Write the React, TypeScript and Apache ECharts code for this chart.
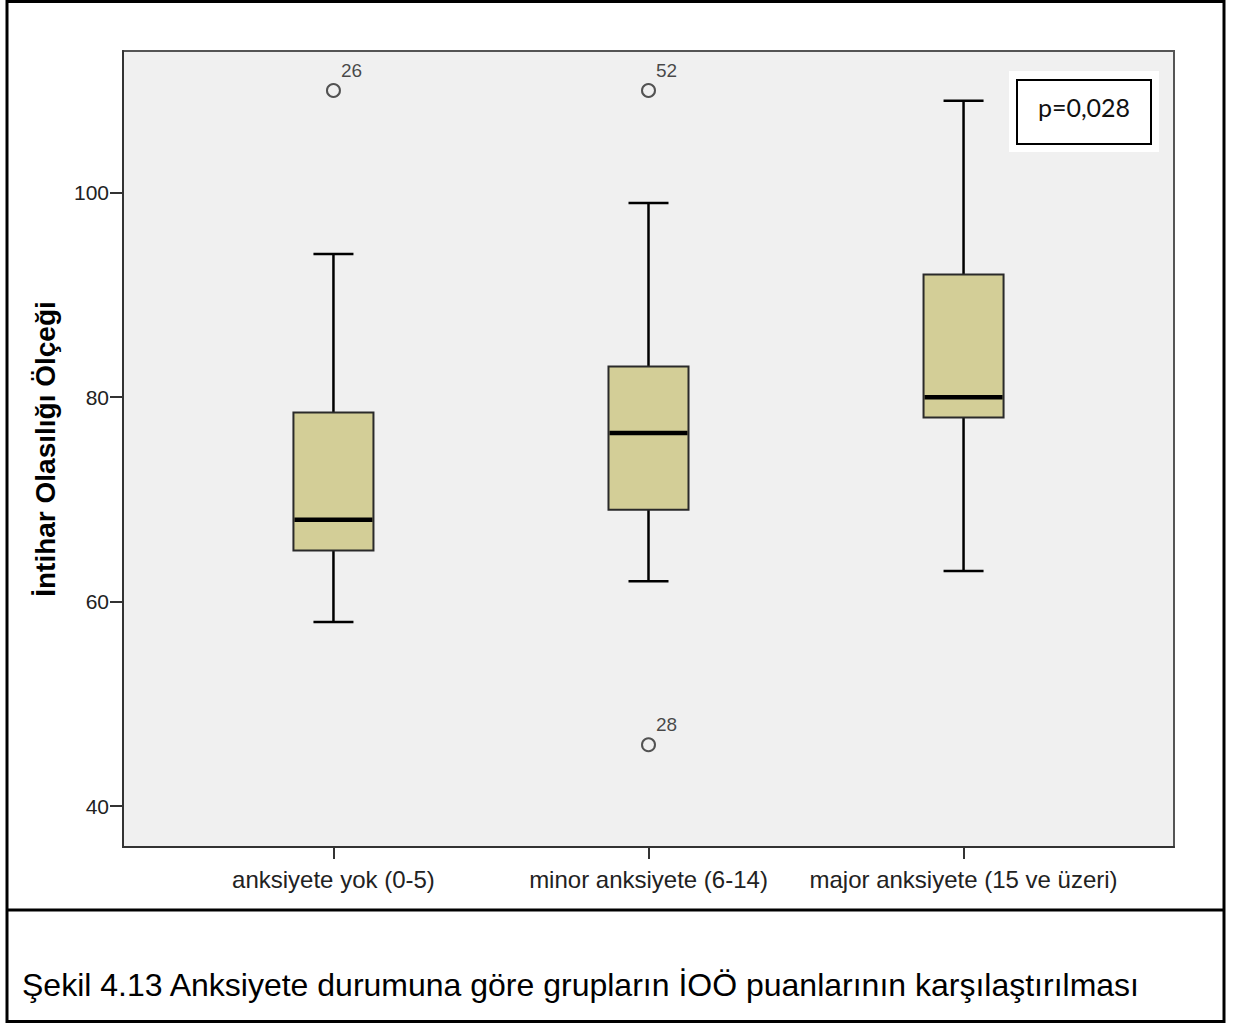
import React, { useEffect, useRef } from "react";
import * as echarts from "echarts";

// ---- data ----
const categories = ["anksiyete yok (0-5)", "minor anksiyete (6-14)", "major anksiyete (15 ve üzeri)"];
const lowerWhisker = [58, 62, 63];
const q1 = [65, 69, 78];
const median = [68, 76.5, 80];
const q3 = [78.5, 83, 92];
const upperWhisker = [94, 99, 109];
const outlierGroup = [0, 1, 1];
const outlierValue = [110, 110, 46];
const outlierLabel = ["26", "52", "28"];
const yTicks = [40, 60, 80, 100];
const yAxisTitle = "İntihar Olasılığı Ölçeği";
const pValueText = "p=0,028";
const caption = "Şekil 4.13 Anksiyete durumuna göre grupların İOÖ puanlarının karşılaştırılması";

const W = 1242;
const H = 1025;
const FONT = "'Liberation Sans', Arial, sans-serif";

export default function App() {
  const ref = useRef<HTMLDivElement>(null);

  useEffect(() => {
    if (!ref.current) return;
    const chart = echarts.init(ref.current, null, { renderer: "svg" });

    const boxData = categories.map((_, i) => [
      i + 1,
      lowerWhisker[i],
      q1[i],
      median[i],
      q3[i],
      upperWhisker[i],
    ]);
    const outlierData = outlierValue.map((v, i) => ({
      value: [outlierGroup[i] + 1, v],
      name: outlierLabel[i],
    }));

    const option: any = {
      animation: false,
      backgroundColor: "#ffffff",
      grid: {
        left: 123,
        right: W - 1174,
        top: 51,
        bottom: H - 847,
        show: true,
        backgroundColor: "#f0f0f0",
        borderColor: "#555555",
        borderWidth: 2,
      },
      xAxis: {
        type: "value",
        min: 0.332,
        max: 3.668,
        splitLine: { show: false },
        axisLine: { show: true, lineStyle: { color: "#333333", width: 2 } },
        axisTick: {
          show: true,
          inside: false,
          customValues: [1, 2, 3],
          length: 12,
          lineStyle: { color: "#333333", width: 2 },
        },
        axisLabel: {
          customValues: [1, 2, 3],
          formatter: (v: number) => categories[Math.round(v) - 1] ?? "",
          fontFamily: FONT,
          fontSize: 24,
          color: "#222222",
          margin: 20,
        },
      },
      yAxis: {
        type: "value",
        min: 36,
        max: 113.86,
        splitLine: { show: false },
        axisLine: { show: true, lineStyle: { color: "#333333", width: 2 } },
        axisTick: {
          show: true,
          inside: false,
          customValues: yTicks,
          length: 13,
          lineStyle: { color: "#333333", width: 2 },
        },
        axisLabel: {
          customValues: yTicks,
          fontFamily: FONT,
          fontSize: 21,
          color: "#222222",
          margin: 14,
        },
        name: yAxisTitle,
        nameLocation: "middle",
        nameGap: 64,
        nameTextStyle: {
          fontFamily: FONT,
          fontSize: 28,
          fontWeight: "bold",
          color: "#000000",
        },
      },
      series: [
        {
          type: "custom",
          data: boxData,
          encode: { x: 0, y: [1, 2, 3, 4, 5] },
          renderItem: (params: any, api: any) => {
            const x = api.value(0);
            const pLo = api.coord([x, api.value(1)]);
            const pQ1 = api.coord([x, api.value(2)]);
            const pMed = api.coord([x, api.value(3)]);
            const pQ3 = api.coord([x, api.value(4)]);
            const pHi = api.coord([x, api.value(5)]);
            const boxW = api.size([0.254, 0])[0];
            const capW = boxW / 2;
            const cx = pMed[0];
            const whisker = { stroke: "#000000", lineWidth: 2.5 };
            return {
              type: "group",
              children: [
                { type: "line", shape: { x1: cx, y1: pHi[1], x2: cx, y2: pQ3[1] }, style: whisker },
                { type: "line", shape: { x1: cx, y1: pQ1[1], x2: cx, y2: pLo[1] }, style: whisker },
                { type: "line", shape: { x1: cx - capW / 2, y1: pHi[1], x2: cx + capW / 2, y2: pHi[1] }, style: whisker },
                { type: "line", shape: { x1: cx - capW / 2, y1: pLo[1], x2: cx + capW / 2, y2: pLo[1] }, style: whisker },
                {
                  type: "rect",
                  shape: { x: cx - boxW / 2, y: pQ3[1], width: boxW, height: pQ1[1] - pQ3[1] },
                  style: { fill: "#d3ce97", stroke: "#2a2a2a", lineWidth: 2 },
                },
                {
                  type: "line",
                  shape: { x1: cx - boxW / 2 + 1, y1: pMed[1], x2: cx + boxW / 2 - 1, y2: pMed[1] },
                  style: { stroke: "#000000", lineWidth: 4.5 },
                },
              ],
            };
          },
          z: 2,
        },
        {
          type: "scatter",
          data: outlierData,
          symbol: "circle",
          symbolSize: 13,
          itemStyle: { color: "rgba(0,0,0,0)", borderColor: "#2a2a2a", borderWidth: 2 },
          label: {
            show: true,
            formatter: (p: any) => p.name,
            position: [15, -22],
            align: "left",
            verticalAlign: "top",
            fontFamily: FONT,
            fontSize: 19,
            color: "#1a1a1a",
          },
          z: 3,
        },
      ],
      graphic: [
        {
          type: "rect",
          shape: { x: 1009, y: 71, width: 150, height: 81 },
          style: { fill: "#ffffff" },
          z: 10,
        },
        {
          type: "rect",
          shape: { x: 1017, y: 80, width: 134, height: 64 },
          style: { fill: "#ffffff", stroke: "#000000", lineWidth: 2 },
          z: 11,
        },
        {
          type: "text",
          x: 1084,
          y: 107,
          style: {
            text: pValueText,
            fontFamily: "Lato, 'Open Sans', sans-serif",
            fontSize: 25,
            fill: "#111111",
            align: "center",
            verticalAlign: "middle",
          },
          z: 12,
        },
        {
          type: "rect",
          shape: { x: 7, y: 1.5, width: 1217, height: 1020 },
          style: { fill: "none", stroke: "#000000", lineWidth: 3 },
          z: 20,
        },
        {
          type: "line",
          shape: { x1: 7, y1: 910, x2: 1224, y2: 910 },
          style: { stroke: "#000000", lineWidth: 3 },
          z: 20,
        },
        {
          type: "text",
          x: 22,
          y: 985,
          style: {
            text: caption,
            fontFamily: FONT,
            fontSize: 32,
            fill: "#000000",
            align: "left",
            verticalAlign: "middle",
          },
          z: 20,
        },
      ],
    };

    chart.setOption(option);
    return () => chart.dispose();
  }, []);

  return (
    <div
      ref={ref}
      style={{ position: "fixed", left: 0, top: 0, width: W, height: H }}
    />
  );
}
